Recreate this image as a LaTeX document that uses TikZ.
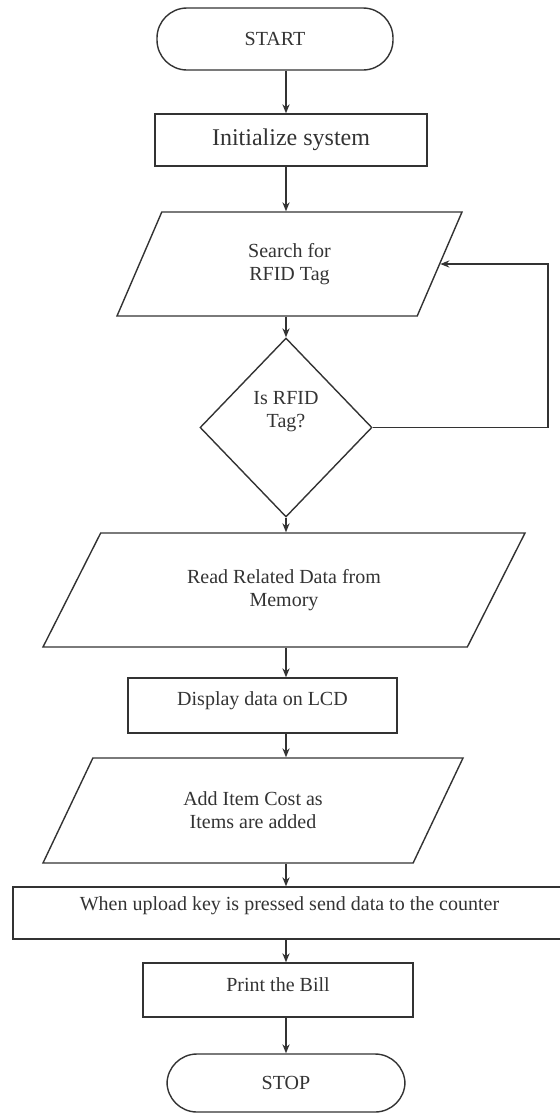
\documentclass[tikz,border=0pt]{standalone}
\usepackage{fontspec}
\setmainfont{Liberation Serif}
\usetikzlibrary{shapes.geometric}
\usetikzlibrary{arrows.meta}

\begin{document}
\begin{tikzpicture}[x=0.5pt,y=-0.5pt,color=black!80,line width=0.7pt,
  >={Stealth[length=4.5pt,width=3.6pt]},
  every node/.style={font=\fontsize{10}{11.5}\selectfont,align=center},
  terminal/.style={draw,rectangle,rounded corners=15pt},
  process/.style={draw,rectangle},
  inout/.style={draw,trapezium,trapezium stretches body},
  test/.style={draw,diamond}]
  \useasboundingbox (0,0) rectangle (560,1115);
  \node[terminal,minimum width=118pt,minimum height=31pt] (start) at (275,39) {START};
  \node[process,minimum width=136pt,minimum height=26pt,font=\fontsize{12}{14}\selectfont] (init) at (291,140) {Initialize system};
  \node[inout,trapezium left angle=50.7,trapezium right angle=129.3,minimum width=172.5pt,minimum height=52pt] (search) at (289.5,264) {Search for\\RFID Tag};
  \node[test,minimum width=86pt,minimum height=89.5pt,text height=7pt,text depth=7.5pt] (tag) at (286,427.5) {Is RFID\\Tag?};
  \node[inout,trapezium left angle=43.5,trapezium right angle=136.5,minimum width=241pt,minimum height=57pt] (read) at (284,590) {Read Related Data from\\Memory};
  \node[process,minimum width=134.5pt,minimum height=27.5pt,text height=7pt,text depth=7.5pt] (disp) at (262.5,705.5) {Display data on LCD};
  \node[inout,trapezium left angle=45.3,trapezium right angle=134.7,minimum width=210pt,minimum height=52.5pt] (add) at (253,810.5) {Add Item Cost as\\Items are added};
  \node[process,minimum width=276.5pt,minimum height=26pt,text height=7pt,text depth=10pt] (upload) at (289.5,913) {When upload key is pressed send data to the counter};
  \node[process,minimum width=135pt,minimum height=27pt,text height=7pt,text depth=6pt] (bill) at (278,990) {Print the Bill};
  \node[terminal,minimum width=119pt,minimum height=29pt] (stop) at (286,1083) {STOP};

  \coordinate (col) at (286,0);
  \coordinate (back) at (548,0);
  \foreach \a/\b in {start/init,init/search,search/tag,tag/read,read/disp,disp/add,add/upload,upload/bill,bill/stop}
    \draw[->] (\a.south -| col) -- (\b.north -| col);
  \draw[->] (tag.east) -- (tag.east -| back) |- (search.east);
\end{tikzpicture}
\end{document}
